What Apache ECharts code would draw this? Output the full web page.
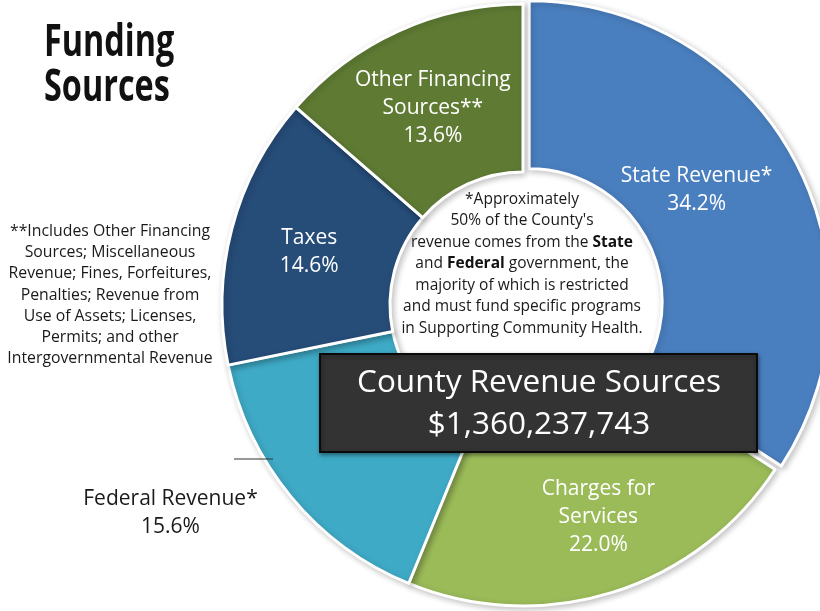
<!DOCTYPE html>
<html>
<head>
<meta charset="utf-8">
<script src="https://cdn.jsdelivr.net/npm/echarts@6/dist/echarts.min.js"></script>
<style>
  html, body { margin: 0; padding: 0; background: #ffffff; }
  #chart { width: 820px; height: 611px; }
</style>
</head>
<body>
<div id="chart"></div>
<script>
// ---- data ----
const categories = ['State Revenue*', 'Charges for Services', 'Federal Revenue*', 'Taxes', 'Other Financing Sources**'];
const labelNames = ['State Revenue*', 'Charges for\nServices', 'Federal Revenue*', 'Taxes', 'Other Financing\nSources**'];
const values = [34.2, 22.0, 15.6, 14.6, 13.6];
const colors = ['#4a7fbf', '#9bbb59', '#3faac6', '#264c78', '#5f7b33'];
const titleLines = ['Funding', 'Sources'];
const totalTitle = 'County Revenue Sources';
const totalValue = '$1,360,237,743';
const centerNote = [
  '*Approximately',
  "50% of the County's",
  'revenue comes from the {b|State}',
  'and {b|Federal} government, the',
  'majority of which is restricted',
  'and must fund specific programs',
  'in Supporting Community Health.'
];
const footNote = [
  '**Includes Other Financing',
  'Sources; Miscellaneous',
  'Revenue; Fines, Forfeitures,',
  'Penalties; Revenue from',
  'Use of Assets; Licenses,',
  'Permits; and other',
  'Intergovernmental Revenue'
];

const FONT = "'Open Sans', 'Noto Sans', sans-serif";

// per-slice label placement tweaks (style only)
const labelShift = [[-26, -7], [10, 2], [-183, 68], [-1, 3], [1, 3]];
const labelColors = ['#ffffff', '#ffffff', '#1a1a1a', '#ffffff', '#ffffff'];

const chart = echarts.init(document.getElementById('chart'), null, { renderer: 'canvas' });

const pieData = categories.map((c, i) => ({
  name: labelNames[i],
  value: values[i],
  selected: i === 0,
  itemStyle: { color: colors[i] },
  label: { color: labelColors[i] },
  select: { label: { color: labelColors[i] } }
}));

const option = {
  backgroundColor: '#ffffff',
  animation: false,
  series: [{
    type: 'pie',
    z: 2,
    center: [523, 305],
    radius: [133, 301],
    startAngle: 90,
    clockwise: true,
    selectedMode: 'single',
    selectedOffset: 7,
    avoidLabelOverlap: false,
    silent: true,
    itemStyle: {
      borderColor: '#ffffff',
      borderWidth: 3,
      shadowBlur: 6,
      shadowColor: 'rgba(0,0,0,0.22)',
      shadowOffsetX: 2,
      shadowOffsetY: 2
    },
    label: {
      show: true,
      position: 'inside',
      fontFamily: FONT,
      fontSize: 21,
      lineHeight: 28,
      color: '#ffffff',
      formatter: p => p.name + '\n' + p.value.toFixed(1) + '%'
    },
    labelLayout: p => ({ dx: labelShift[p.dataIndex][0], dy: labelShift[p.dataIndex][1] }),
    labelLine: { show: false },
    emphasis: { disabled: true },
    data: pieData
  }],
  graphic: [
    // title
    {
      type: 'text', x: 44, y: 43, scaleX: 0.72, scaleY: 1, z: 10,
      style: { text: titleLines[0], x: 0, y: 0, fill: '#111111', font: "bold 45px 'Open Sans', 'Noto Sans', sans-serif",
        textAlign: 'left', textVerticalAlign: 'middle', align: 'left', verticalAlign: 'middle' }
    },
    {
      type: 'text', x: 44, y: 88, scaleX: 0.72, scaleY: 1, z: 10,
      style: { text: titleLines[1], x: 0, y: 0, fill: '#111111', font: "bold 45px 'Open Sans', 'Noto Sans', sans-serif",
        textAlign: 'left', textVerticalAlign: 'middle', align: 'left', verticalAlign: 'middle' }
    },
    // footnote
    {
      type: 'text', x: 110, y: 295, z: 10,
      style: {
        text: footNote.join('\n'), fill: '#1a1a1a', fontFamily: FONT, fontSize: 15.8, lineHeight: 21.2,
        textAlign: 'center', textVerticalAlign: 'middle', align: 'center', verticalAlign: 'middle'
      }
    },
    // center note
    {
      type: 'text', x: 522, y: 264, z: 10,
      style: {
        text: centerNote.join('\n'), fill: '#1a1a1a', fontFamily: FONT, fontSize: 15.5, lineHeight: 21.5,
        textAlign: 'center', textVerticalAlign: 'middle', align: 'center', verticalAlign: 'middle',
        rich: { b: { fontWeight: 'bold', fontFamily: FONT, fontSize: 15.5, fill: '#111111', lineHeight: 21.5 } }
      }
    },
    // total box
    {
      type: 'rect', z: 20, shape: { x: 320, y: 354, width: 437, height: 98 },
      style: { fill: '#333333', stroke: '#0a0a0a', lineWidth: 2, shadowBlur: 4, shadowColor: 'rgba(0,0,0,0.4)', shadowOffsetX: 1, shadowOffsetY: 2 }
    },
    {
      type: 'text', x: 539, y: 404, z: 21,
      style: {
        text: totalTitle + '\n' + totalValue, fill: '#ffffff', fontFamily: FONT, fontSize: 31.5, lineHeight: 42,
        textAlign: 'center', textVerticalAlign: 'middle', align: 'center', verticalAlign: 'middle'
      }
    },
    // short leader stroke near Federal Revenue
    {
      type: 'line', z: 20, shape: { x1: 234, y1: 459, x2: 273, y2: 459 },
      style: { stroke: '#333333', lineWidth: 1.2 }
    }
  ]
};

chart.setOption(option);
</script>
</body>
</html>
